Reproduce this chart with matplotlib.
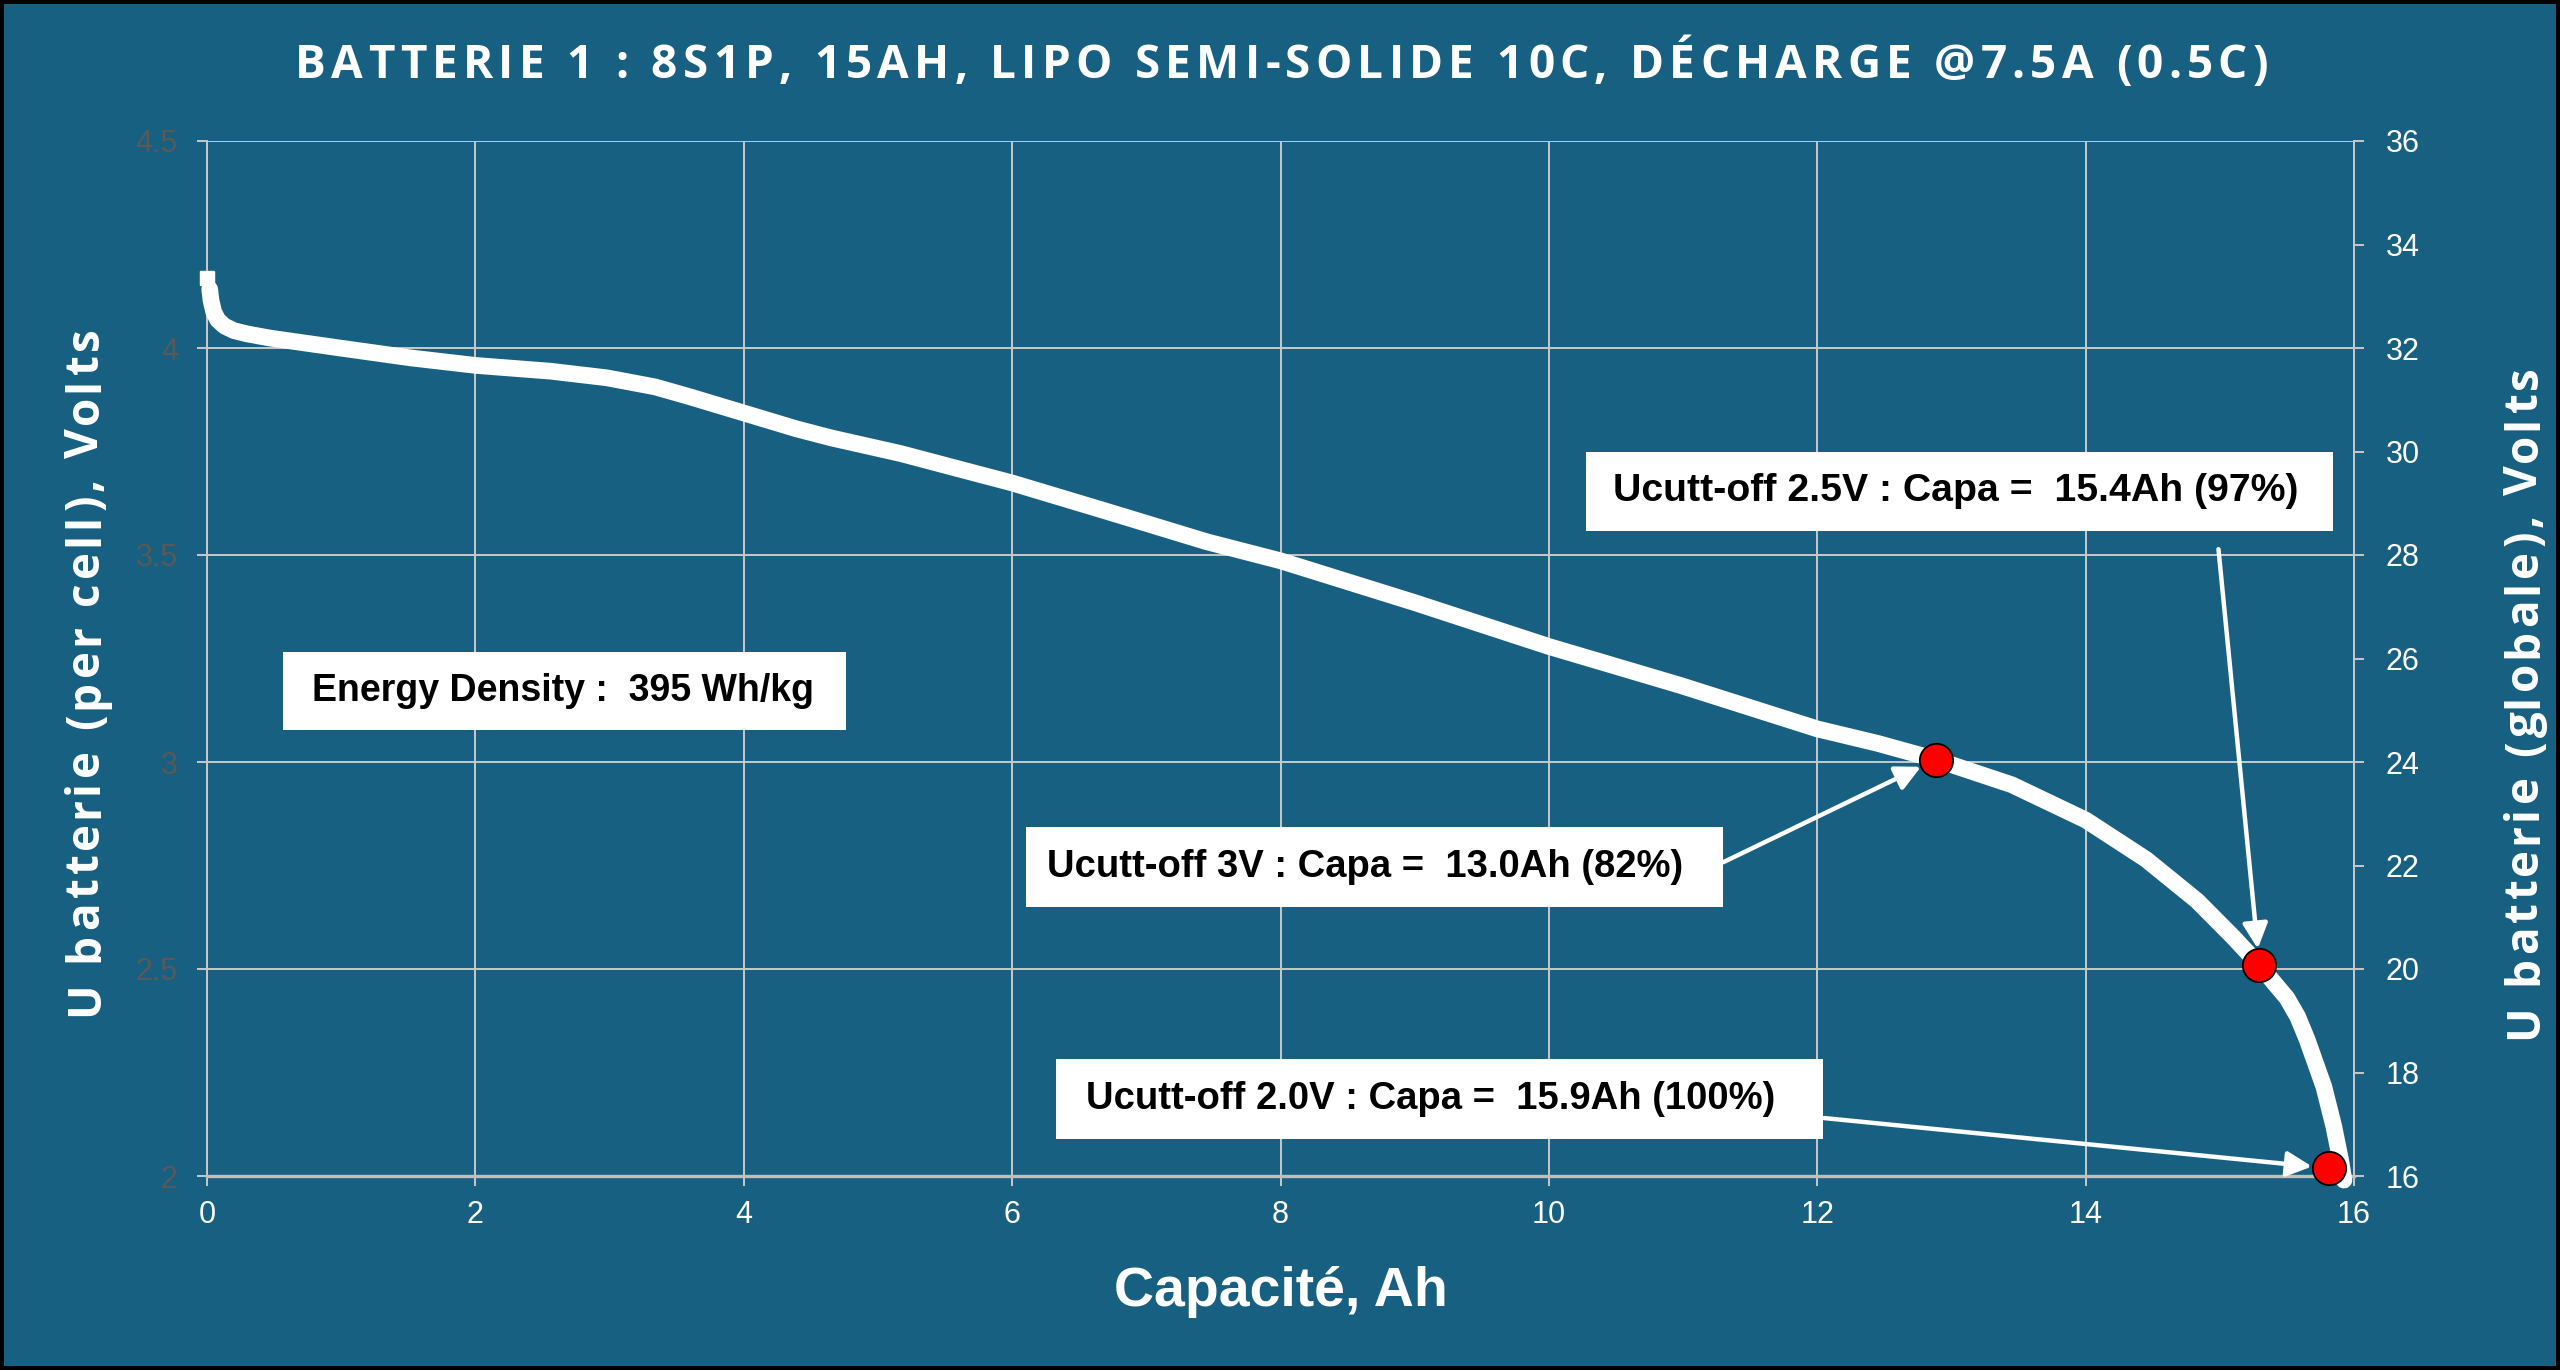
import numpy as np
import matplotlib.pyplot as plt
from matplotlib.patches import Rectangle

# ---- data (per-cell voltage vs capacity) ----
start_cap = [0.0]
start_volt = [4.168]

capacity_ah = [0.02, 0.03, 0.05, 0.08, 0.13, 0.2, 0.3, 0.47, 0.99, 1.52, 2.0, 2.56, 2.98,
               3.34, 3.6, 4.0, 4.39, 4.65, 5.17, 5.59, 6.0, 6.74, 7.45, 8.0, 9.0,
               10.0, 10.98, 12.0, 12.45, 12.885, 13.45, 14.0, 14.45, 14.83, 15.1,
               15.295, 15.5, 15.58, 15.65, 15.775, 15.85, 15.9, 15.925]
cell_volts = [4.142, 4.115, 4.087, 4.068, 4.053, 4.042, 4.034, 4.024, 4.0, 3.976, 3.958, 3.944, 3.928,
              3.906, 3.882, 3.843, 3.805, 3.783, 3.745, 3.709, 3.674, 3.602, 3.532, 3.486, 3.385,
              3.279, 3.185, 3.08, 3.045, 3.006, 2.945, 2.86, 2.765, 2.665, 2.577,
              2.509, 2.43, 2.385, 2.33, 2.216, 2.119, 2.039, 1.99]

cutoff_cap = [12.885, 15.295, 15.81]
cutoff_volt = [3.006, 2.509, 2.019]
cutoff_labels = ["Ucutt-off 3V : Capa =  13.0Ah (82%)",
                 "Ucutt-off 2.5V : Capa =  15.4Ah (97%)",
                 "Ucutt-off 2.0V : Capa =  15.9Ah (100%)"]
energy_label = "Energy Density :  395 Wh/kg"
title = "BATTERIE 1 : 8S1P, 15AH, LIPO SEMI-SOLIDE 10C, DÉCHARGE @7.5A (0.5C)"
xlabel = "Capacité, Ah"
ylabel_left = "U batterie (per cell), Volts"
ylabel_right = "U batterie (globale), Volts"
n_cells = 8

x_ticks = np.arange(0, 17, 2)
left_ticks = [2, 2.5, 3, 3.5, 4, 4.5]
left_tick_labels = ["2", "2.5", "3", "3.5", "4", "4.5"]
right_ticks = np.arange(16, 37, 2)

# ---- layout (boxes: x0, x1, y0, y1, text x ; arrow start) ----
cutoff_boxes = [(6.10, 11.30, 2.650, 2.843, 6.26),
                (10.28, 15.84, 3.558, 3.749, 10.48),
                (6.33, 12.04, 2.089, 2.283, 6.55)]
arrow_starts = [(11.30, 2.758), (14.99, 3.514), (12.05, 2.14)]
energy_box = (0.566, 4.762, 3.077, 3.266, 0.78)

W, H = 2560, 1370
bg = "#186081"
grid_c = "#c8c8c8"

fig = plt.figure(figsize=(W / 100, H / 100), dpi=100)
fig.patch.set_facecolor("black")
fig.patches.append(Rectangle((4 / W, 4 / H), 1 - 8 / W, 1 - 8 / H,
                             transform=fig.transFigure, facecolor=bg,
                             edgecolor="none", zorder=-10))

ax = fig.add_axes([207 / W, 1 - 1176 / H, 2147 / W, 1035 / H])
ax.set_facecolor(bg)
ax.set_xlim(0, 16)
ax.set_ylim(2, 4.5)

ax.set_xticks(x_ticks)
ax.set_yticks(left_ticks)
ax.set_yticklabels(left_tick_labels)
ax.grid(True, color=grid_c, lw=1.4, zorder=0)
ax.set_axisbelow(True)
ax.spines["top"].set_visible(False)
ax.spines["left"].set_color(grid_c)
ax.spines["left"].set_linewidth(1.4)
ax.spines["right"].set_color(grid_c)
ax.spines["right"].set_linewidth(1.4)
ax.spines["bottom"].set_color("#bfbfbf")
ax.spines["bottom"].set_linewidth(2.4)

ax.tick_params(axis="x", colors=grid_c, length=7, width=1.4, direction="out",
               labelsize=22, labelcolor="white", pad=10)
ax.tick_params(axis="y", colors=grid_c, length=7, width=1.4, direction="out",
               labelsize=22, labelcolor="#595959", pad=14)
for lab in ax.get_xticklabels() + ax.get_yticklabels():
    lab.set_fontfamily("Liberation Sans")

ax2 = ax.twinx()
ax2.set_ylim(2 * n_cells, 4.5 * n_cells)
ax2.set_yticks(right_ticks)
ax2.tick_params(axis="y", colors=grid_c, length=7, width=1.4, direction="out",
                labelsize=22, labelcolor="white", pad=16)
for lab in ax2.get_yticklabels():
    lab.set_fontfamily("Liberation Sans")
for side in ["top", "left", "bottom", "right"]:
    ax2.spines[side].set_visible(False)

# curve
ax.plot(start_cap, start_volt, marker="s", ms=10, color="white", ls="none",
        zorder=4, clip_on=False)
ax.plot(capacity_ah, cell_volts, color="white", lw=12, solid_capstyle="round",
        solid_joinstyle="round", zorder=4, clip_on=False)
ax.plot(cutoff_cap, cutoff_volt, "o", ms=24, mfc="red", mec="black", mew=1.3,
        zorder=6, clip_on=False)


def label_box(box, text, size):
    x0, x1, y0, y1, tx = box
    ax.add_patch(Rectangle((x0, y0), x1 - x0, y1 - y0, facecolor="white",
                           edgecolor="none", zorder=5))
    ax.text(tx, (y0 + y1) / 2, text, ha="left", va="center", fontsize=size,
            fontweight="bold", family="Liberation Sans", color="black", zorder=6)


label_box(energy_box, energy_label, 27)
for box, text, start, cx, cy, size in zip(cutoff_boxes, cutoff_labels, arrow_starts,
                                           cutoff_cap, cutoff_volt, [27.5, 28.3, 27.5]):
    label_box(box, text, size)
    ax.annotate("", xy=(cx, cy), xytext=start, zorder=5,
                arrowprops=dict(arrowstyle="-|>", color="white", lw=3.2,
                                mutation_scale=38, shrinkA=0, shrinkB=12))

ax.set_xlabel(xlabel, fontsize=40, fontweight="bold", color="white",
              family="Liberation Sans")
ax.xaxis.set_label_coords(0.5002, -0.112)
ax.xaxis.label.set_verticalalignment("center")

# letter-spaced texts (title and the two vertical axis titles)
renderer = fig.canvas.get_renderer()


def char_width(ch, kw):
    if ch == " ":
        a = fig.text(0, 0, "H H", **kw)
        b = fig.text(0, 0, "HH", **kw)
        w = a.get_window_extent(renderer).width - b.get_window_extent(renderer).width
        a.remove()
        b.remove()
        return w
    t = fig.text(0, 0, ch, **kw)
    w = t.get_window_extent(renderer).width
    t.remove()
    return w


def spaced_text(s, x0, y0, length, rotation=0, **kw):
    # x0, y0: start of the baseline in figure pixels (from bottom-left)
    widths = [char_width(c, kw) for c in s]
    gap = (length - sum(widths)) / (len(s) - 1)
    pos = 0
    for ch, w in zip(s, widths):
        if ch != " ":
            x, y = (x0 + pos, y0) if rotation == 0 else (x0, y0 + pos)
            fig.text(x / W, y / H, ch, rotation=rotation, rotation_mode="anchor",
                     ha="left", va="baseline", **kw)
        pos += w + gap


spaced_text(title, 295, H - 78, 1973, fontsize=33, fontweight="bold",
            color="white", family="Open Sans")
spaced_text(ylabel_left, 98, H - 1016, 689, rotation=90, fontsize=33,
            fontweight="bold", color="white", family="Open Sans")
spaced_text(ylabel_right, 2537, H - 1039, 673, rotation=90, fontsize=33,
            fontweight="bold", color="white", family="Open Sans")

fig.savefig("out.png", dpi=100, facecolor=fig.get_facecolor())
